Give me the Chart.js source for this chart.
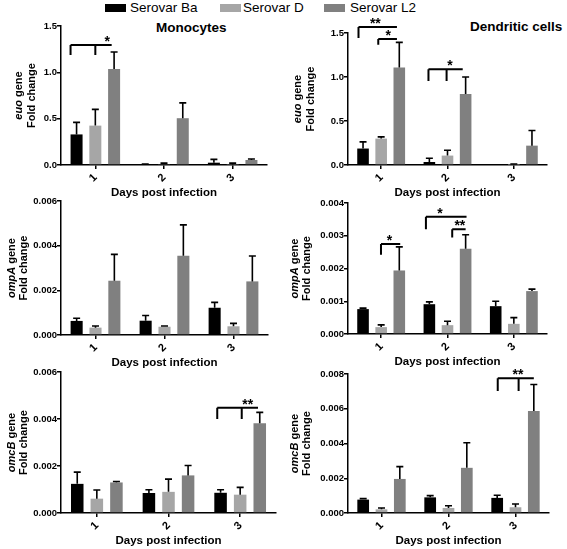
<!DOCTYPE html>
<html lang="en">
<head>
<meta charset="UTF-8">
<title>euo, ompA and omcB expression in monocytes and dendritic cells</title>
<style>
  body { margin: 0; background: #fff; }
  #page { position: relative; width: 567px; height: 549px; overflow: hidden; font-family: "Liberation Sans", Arial, sans-serif; color: #000; }
  #page canvas { position: absolute; }
  .box { position: absolute; top: 4px; width: 21px; height: 8px; }
  .key { position: absolute; top: 1px; font-size: 13.5px; line-height: 14px; white-space: nowrap; }
  .head { position: absolute; font-size: 13.5px; line-height: 14px; font-weight: bold; white-space: nowrap; }
</style>
</head>
<body>
<div id="page">
  <div class="box" style="left:105px; background:#000000"></div>
  <div class="key" style="left:130px">Serovar Ba</div>
  <div class="box" style="left:220px; background:#a6a6a6"></div>
  <div class="key" style="left:243px">Serovar D</div>
  <div class="box" style="left:324px; background:#808080"></div>
  <div class="key" style="left:350px">Serovar L2</div>
  <div class="head" style="left:156px; top:21px">Monocytes</div>
  <div class="head" style="left:470px; top:20px">Dendritic cells</div>

  <canvas id="p1"></canvas>
  <canvas id="p2"></canvas>
  <canvas id="p3"></canvas>
  <canvas id="p4"></canvas>
  <canvas id="p5"></canvas>
  <canvas id="p6"></canvas>
</div>

<script src="https://cdn.jsdelivr.net/npm/chart.js@4.4.0/dist/chart.umd.min.js"></script>
<script>
// ---- data (rows: Serovar Ba, Serovar D, Serovar L2; columns: day 1, 2, 3) ----
const days = ['1', '2', '3'];
const serovars = ['Serovar Ba', 'Serovar D', 'Serovar L2'];
const serovarColors = ['#000000', '#a6a6a6', '#808080'];

const monoEuoMean = [[0.33, 0.005, 0.025], [0.425, 0.01, 0.005], [1.035, 0.505, 0.054]];
const monoEuoSem  = [[0.13, 0.004, 0.036], [0.175, 0.01, 0.015], [0.185, 0.165, 0.011]];

const dcEuoMean = [[0.187, 0.034, 0], [0.30, 0.107, 0.003], [1.108, 0.807, 0.22]];
const dcEuoSem  = [[0.076, 0.042, 0], [0.02, 0.06, 0.008], [0.285, 0.193, 0.172]];

const monoOmpAMean = [[0.00063, 0.00064, 0.00122], [0.00033, 0.00037, 0.00039], [0.00243, 0.00355, 0.0024]];
const monoOmpASem  = [[0.00012, 0.00023, 0.00024], [0.00007, 0.00003, 0.00013], [0.00118, 0.00138, 0.00114]];

const dcOmpAMean = [[0.00076, 0.00091, 0.00085], [0.00021, 0.00027, 0.00031], [0.00194, 0.0026, 0.00131]];
const dcOmpASem  = [[0.00003, 0.00007, 0.00015], [0.00007, 0.00012, 0.00019], [0.00072, 0.00043, 0.00006]];

const monoOmcBMean = [[0.00124, 0.00085, 0.00086], [0.00061, 0.0009, 0.00078], [0.0013, 0.0016, 0.00382]];
const monoOmcBSem  = [[0.0005, 0.00014, 0.00013], [0.00037, 0.00054, 0.00031], [0.00004, 0.00042, 0.00046]];

const dcOmcBMean = [[0.00077, 0.0009, 0.00087], [0.00021, 0.00029, 0.00033], [0.00196, 0.0026, 0.00587]];
const dcOmcBSem  = [[0.00006, 0.0001, 0.00015], [0.00008, 0.00013, 0.00019], [0.00071, 0.00144, 0.00153]];

// significance brackets: group (day index), ends/legs in bar slots (0 Ba, 1 D, 2 L2), line and leg-foot values
const monoEuoMarks = [{ g: 0, from: -0.32, to: 1.87, legs: [-0.32, 1], top: 1.295, foot: 1.186, text: '*', at: 1.64 }];
const dcEuoMarks = [
  { g: 0, from: -0.25, to: 1.87, legs: [-0.25], top: 1.568, foot: 1.443, text: '**', at: 0.68 },
  { g: 0, from: 0.84, to: 1.87, legs: [0.84], top: 1.431, foot: 1.367, text: '*', at: 1.39 },
  { g: 1, from: -0.05, to: 1.84, legs: [-0.05, 0.95], top: 1.089, foot: 0.955, text: '*', at: 1.13 }
];
const monoOmpAMarks = [];
const dcOmpAMarks = [
  { g: 0, from: 0.99, to: 2.05, legs: [0.99], top: 0.00275, foot: 0.00242, text: '*', at: 1.46 },
  { g: 1, from: -0.19, to: 2.05, legs: [-0.19], top: 0.00358, foot: 0.0032, text: '*', at: 0.59 },
  { g: 1, from: 1.26, to: 2.0, legs: [1.26], top: 0.0032, foot: 0.00295, text: '**', at: 1.68 }
];
const monoOmcBMarks = [{ g: 2, from: -0.17, to: 1.91, legs: [-0.17, 1.08], top: 0.00448, foot: 0.004, text: '**', at: 1.39 }];
const dcOmcBMarks = [{ g: 2, from: 0.03, to: 2.0, legs: [0.03, 1.17], top: 0.00775, foot: 0.00702, text: '**', at: 1.14 }];

const FAMILY = '"Liberation Sans", Arial, sans-serif';

// box = canvas [left, top, width, height], area = wanted plot area [left, top, right, bottom] on the page
const panels = [
  { id: 'p1', box: [0, 0, 283, 201], area: [61, 26, 267, 165], max: 1.5, step: 0.5, dec: 1, gene: 'euo', titleX: [19, 32], mean: monoEuoMean, sem: monoEuoSem, marks: monoEuoMarks },
  { id: 'p2', box: [283, 0, 284, 201], area: [348, 33, 547, 165], max: 1.5, step: 0.5, dec: 1, gene: 'euo', titleX: [298, 311], mean: dcEuoMean, sem: dcEuoSem, marks: dcEuoMarks },
  { id: 'p3', box: [0, 186, 283, 184], area: [61, 201, 268, 335], max: 0.006, step: 0.002, dec: 3, gene: 'ompA', titleX: [12, 24], mean: monoOmpAMean, sem: monoOmpASem, marks: monoOmpAMarks },
  { id: 'p4', box: [283, 186, 284, 184], area: [348, 203, 547, 334], max: 0.004, step: 0.001, dec: 3, gene: 'ompA', titleX: [295, 307], mean: dcOmpAMean, sem: dcOmpASem, marks: dcOmpAMarks },
  { id: 'p5', box: [0, 362, 283, 187], area: [61, 372, 276, 513], max: 0.006, step: 0.002, dec: 3, gene: 'omcB', titleX: [12, 24], mean: monoOmcBMean, sem: monoOmcBSem, marks: monoOmcBMarks },
  { id: 'p6', box: [283, 362, 284, 187], area: [348, 374, 549, 513], max: 0.008, step: 0.002, dec: 3, gene: 'omcB', titleX: [295, 307], mean: dcOmcBMean, sem: dcOmcBSem, marks: dcOmcBMarks }
];

// error bars, brackets, rotated day labels, axis titles
const extras = {
  id: 'extras',
  afterDatasetsDraw(chart, args, opts) {
    const ctx = chart.ctx;
    const ys = chart.scales.y;
    ctx.save();
    ctx.strokeStyle = '#000';
    ctx.lineWidth = 1.6;
    chart.data.datasets.forEach((ds, i) => {
      chart.getDatasetMeta(i).data.forEach((bar, j) => {
        if (!ds.sem[j]) return;
        const top = ys.getPixelForValue(ds.data[j] + ds.sem[j]);
        ctx.beginPath();
        ctx.moveTo(bar.x, bar.y);
        ctx.lineTo(bar.x, top);
        ctx.moveTo(bar.x - 3.5, top);
        ctx.lineTo(bar.x + 3.5, top);
        ctx.stroke();
      });
    });

    ctx.lineWidth = 2;
    ctx.fillStyle = '#000';
    ctx.font = 'bold 14px ' + FAMILY;
    ctx.textAlign = 'center';
    ctx.textBaseline = 'alphabetic';
    opts.marks.forEach(m => {
      const x0 = chart.getDatasetMeta(0).data[m.g].x;
      const x1 = chart.getDatasetMeta(1).data[m.g].x;
      const px = p => x0 + p * (x1 - x0);
      const yTop = ys.getPixelForValue(m.top);
      const yFoot = ys.getPixelForValue(m.foot);
      ctx.beginPath();
      ctx.moveTo(px(m.from), yTop);
      ctx.lineTo(px(m.to), yTop);
      m.legs.forEach(p => {
        ctx.moveTo(px(p), yTop);
        ctx.lineTo(px(p), yFoot);
      });
      ctx.stroke();
      ctx.fillText(m.text, px(m.at), yTop + 1);
    });
    ctx.restore();
  },
  afterDraw(chart, args, opts) {
    const ctx = chart.ctx;
    const area = chart.chartArea;
    const xs = chart.scales.x;
    ctx.save();
    ctx.fillStyle = '#000';

    // day labels, turned 45 degrees
    ctx.font = 'bold 11px ' + FAMILY;
    ctx.textAlign = 'center';
    ctx.textBaseline = 'middle';
    days.forEach((d, i) => {
      ctx.save();
      ctx.translate(xs.getPixelForTick(i) - 2, area.bottom + 13);
      ctx.rotate(-Math.PI / 4);
      ctx.fillText(d, 0, 0);
      ctx.restore();
    });

    // x title
    ctx.font = 'bold 11.5px ' + FAMILY;
    ctx.fillText('Days post infection', (area.left + area.right) / 2, area.bottom + 27.5);

    // y title: italic gene name + "gene", then "Fold change"
    const cy = (area.top + area.bottom) / 2;
    ctx.textAlign = 'left';
    ctx.save();
    ctx.translate(opts.titleX[0], cy);
    ctx.rotate(-Math.PI / 2);
    ctx.font = 'italic bold 11px ' + FAMILY;
    const w1 = ctx.measureText(opts.gene).width;
    ctx.font = 'bold 11px ' + FAMILY;
    const w2 = ctx.measureText(' gene').width;
    const start = -(w1 + w2) / 2;
    ctx.font = 'italic bold 11px ' + FAMILY;
    ctx.fillText(opts.gene, start, 0);
    ctx.font = 'bold 11px ' + FAMILY;
    ctx.fillText(' gene', start + w1, 0);
    ctx.restore();

    ctx.save();
    ctx.translate(opts.titleX[1], cy);
    ctx.rotate(-Math.PI / 2);
    ctx.textAlign = 'center';
    ctx.font = 'bold 11px ' + FAMILY;
    ctx.fillText('Fold change', 0, 0);
    ctx.restore();

    ctx.restore();
  }
};

Chart.defaults.font.family = FAMILY;
Chart.defaults.font.weight = 'bold';
Chart.defaults.color = '#000';

panels.forEach(p => {
  const [bx, by, bw, bh] = p.box;
  const [L, T, R, B] = p.area;
  const canvas = document.getElementById(p.id);
  canvas.width = bw;
  canvas.height = bh;
  canvas.style.left = bx + 'px';
  canvas.style.top = by + 'px';
  canvas.style.width = bw + 'px';
  canvas.style.height = bh + 'px';

  new Chart(canvas, {
    type: 'bar',
    data: {
      labels: days,
      datasets: serovars.map((name, i) => ({
        label: name,
        data: p.mean[i],
        sem: p.sem[i],
        backgroundColor: serovarColors[i],
        borderWidth: 0,
        categoryPercentage: 0.82,
        barPercentage: 0.64
      }))
    },
    options: {
      responsive: false,
      animation: false,
      devicePixelRatio: 1,
      layout: { padding: { left: 0, top: T - by, right: bx + bw - R, bottom: 0 } },
      plugins: {
        legend: { display: false },
        tooltip: { enabled: false },
        extras: {
          marks: p.marks,
          gene: p.gene,
          titleX: [p.titleX[0] - bx, p.titleX[1] - bx]
        }
      },
      scales: {
        x: {
          offset: true,
          afterFit(s) { s.height = by + bh - B; },
          grid: { display: true, offset: false, drawOnChartArea: false, drawTicks: true, tickLength: 4, color: '#000', lineWidth: 1.5 },
          border: { display: true, color: '#000', width: 1.5 },
          ticks: { display: false }
        },
        y: {
          min: 0,
          max: p.max,
          afterFit(s) { s.width = L - bx; },
          grid: { display: true, drawOnChartArea: false, drawTicks: true, tickLength: 4, color: '#000', lineWidth: 1.5 },
          border: { display: true, color: '#000', width: 1.5 },
          ticks: {
            stepSize: p.step,
            padding: 0,
            font: { size: 9.5, weight: 'bold' },
            callback: v => Number(v).toFixed(p.dec)
          }
        }
      }
    },
    plugins: [extras]
  });
});
</script>
</body>
</html>
